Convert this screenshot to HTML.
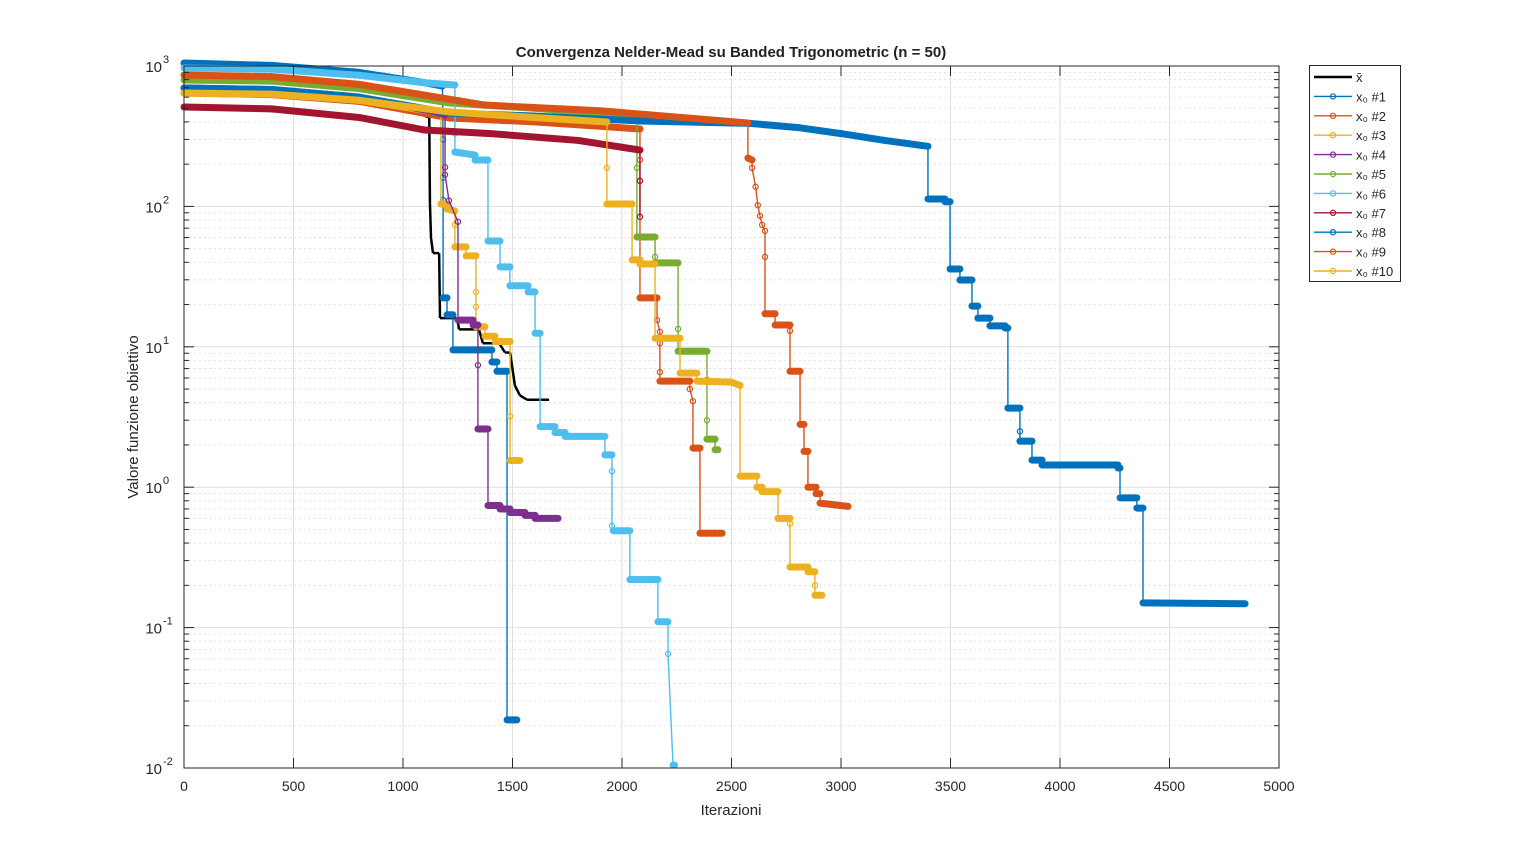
<!DOCTYPE html>
<html><head><meta charset="utf-8"><style>
body{margin:0;background:#fff;}
svg{display:block;font-family:"Liberation Sans",Arial,sans-serif;}
</style></head><body>
<svg id="chart" width="1536" height="864" viewBox="0 0 1536 864" xmlns="http://www.w3.org/2000/svg">
<rect x="0" y="0" width="1536" height="864" fill="#fff"/>
<g id="grid"></g>
<g id="series"></g>
<g id="axes"></g>
<text x="731" y="57" text-anchor="middle" font-size="15" font-weight="bold" fill="#222">Convergenza Nelder-Mead su Banded Trigonometric (n = 50)</text>
<text x="731" y="815" text-anchor="middle" font-size="15" fill="#262626">Iterazioni</text>
<text x="138" y="417" text-anchor="middle" font-size="15" fill="#262626" transform="rotate(-90 138 417)">Valore funzione obiettivo</text>
<g id="legend"></g>
</svg>
<script>
const xTicks=[0,500,1000,1500,2000,2500,3000,3500,4000,4500,5000];
const yDecades=[-2,-1,0,1,2,3];
const seriesNames=["x̄","x₀ #1","x₀ #2","x₀ #3","x₀ #4","x₀ #5","x₀ #6","x₀ #7","x₀ #8","x₀ #9","x₀ #10"];
const seriesColors=["#000000","#0072BD","#D95319","#EDB120","#7E2F8E","#77AC30","#4DBEEE","#A2142F","#0072BD","#D95319","#EDB120"];

const sBar=[[0,640],[500,610],[1000,500],[1120,430],[1123,105],[1128,59.5],[1137,46.5],[1165,46.5],[1169,16],[1247,16],[1256,13.3],[1347,13.3],[1365,10.6],[1439,10.6],[1466,9.1],[1489,9.1],[1511,5.3],[1534,4.5],[1566,4.2],[1667,4.2]];
const s1=[[0,1050],[400,1010],[800,900],[1100,760],[1180,720],[1183,300],[1183,160],[1183,111],[1183,22.3],[1201,22.3],[1201,16.9],[1228,16.9],[1228,9.5],[1406,9.5],[1406,7.8],[1429,7.8],[1429,6.7],[1475,6.7],[1475,0.022],[1520,0.022]];
const s2=[[0,642],[400,625],[800,560],[1215,426],[1600,400],[2082,356],[2082,214],[2082,152],[2082,22.3],[2160,22.3],[2160,15.5],[2173,12.8],[2173,10.6],[2173,6.6],[2173,5.7],[2310,5.7],[2310,5.0],[2324,4.1],[2324,1.9],[2356,1.9],[2356,0.47],[2457,0.47]];
const s3=[[0,642],[400,630],[800,570],[1150,470],[1173,460],[1173,104],[1201,104],[1201,95.8],[1237,92.7],[1237,73.9],[1237,51.5],[1288,51.5],[1288,44.4],[1333,44.4],[1333,24.6],[1333,19.3],[1333,13.9],[1374,13.9],[1374,11.9],[1420,11.9],[1420,10.9],[1489,10.9],[1489,3.2],[1489,1.55],[1534,1.55]];
const s4=[[0,697],[400,680],[800,600],[1150,470],[1192,448],[1192,190],[1192,168],[1210,110],[1251,77.7],[1251,15.5],[1320,15.5],[1320,14.3],[1342,14.3],[1342,7.4],[1342,2.6],[1388,2.6],[1388,0.74],[1443,0.74],[1443,0.7],[1489,0.7],[1489,0.66],[1557,0.66],[1557,0.63],[1603,0.63],[1603,0.6],[1708,0.6]];
const s5=[[0,795],[400,780],[800,690],[1215,545],[1600,500],[2068,433],[2068,188],[2068,60.6],[2151,60.6],[2151,43.7],[2151,39.6],[2256,39.6],[2256,13.4],[2256,9.3],[2388,9.3],[2388,5.8],[2388,3.0],[2388,2.2],[2425,2.2],[2425,1.85],[2438,1.85]];
const s6=[[0,968],[400,950],[800,860],[1100,760],[1237,732],[1237,330],[1237,244],[1329,232],[1329,214],[1388,214],[1388,56.7],[1443,56.7],[1443,37.1],[1488,37.1],[1488,27.2],[1571,27.2],[1571,24.6],[1603,24.6],[1603,12.5],[1626,12.5],[1626,2.7],[1694,2.7],[1694,2.45],[1740,2.45],[1740,2.3],[1922,2.3],[1922,1.7],[1954,1.7],[1954,1.3],[1954,0.53],[1960,0.49],[2036,0.49],[2036,0.22],[2164,0.22],[2164,0.11],[2210,0.11],[2210,0.065],[2233,0.0105],[2240,0.0105]];
const s7=[[0,510],[400,495],[800,430],[1100,350],[1400,330],[1800,295],[2082,252],[2082,152],[2082,84.4]];
const s8=[[0,697],[400,680],[800,600],[1215,462],[1600,440],[2082,406],[2584,390],[2800,365],[3000,330],[3200,295],[3397,268],[3397,113],[3475,113],[3475,108],[3498,108],[3498,35.8],[3543,35.8],[3543,29.9],[3598,29.9],[3598,19.5],[3625,19.5],[3625,16],[3680,16],[3680,14.1],[3749,14.1],[3749,13.6],[3762,13.6],[3762,3.66],[3817,3.66],[3817,2.5],[3817,2.13],[3872,2.13],[3872,1.56],[3918,1.56],[3918,1.44],[4265,1.44],[4265,1.37],[4274,1.37],[4274,0.84],[4351,0.84],[4351,0.71],[4379,0.71],[4379,0.15],[4845,0.148]];
const s9=[[0,863],[400,840],[800,740],[1374,527],[1900,480],[2575,393],[2575,221],[2594,214],[2594,188],[2610,138],[2620,102],[2630,85.8],[2640,73.9],[2653,67],[2653,43.7],[2653,17.2],[2699,17.2],[2699,14.3],[2767,14.3],[2767,13],[2767,6.7],[2813,6.7],[2813,2.8],[2831,2.8],[2831,1.8],[2849,1.8],[2849,1.0],[2886,1.0],[2886,0.9],[2904,0.9],[2904,0.77],[3032,0.73]];
const s10=[[0,642],[400,630],[800,570],[1215,470],[1600,430],[1931,399],[1931,188],[1931,104],[2046,104],[2046,41.6],[2082,41.6],[2082,38.9],[2151,38.9],[2151,11.5],[2265,11.5],[2265,6.5],[2342,6.5],[2342,5.7],[2500,5.6],[2539,5.3],[2539,1.2],[2616,1.2],[2616,1.0],[2639,1.0],[2639,0.93],[2712,0.93],[2712,0.6],[2767,0.6],[2767,0.55],[2767,0.27],[2849,0.27],[2849,0.25],[2881,0.25],[2881,0.2],[2881,0.17],[2913,0.17]];
const allSeries=[sBar,s1,s2,s3,s4,s5,s6,s7,s8,s9,s10];

const X0=184,X1=1279,Y0=66,Y1=768;
const xMax=5000,logMin=-2,logMax=3;
function xs(v){return X0+(v/xMax)*(X1-X0);}
function ys(v){return Y0+(logMax-Math.log10(v))/(logMax-logMin)*(Y1-Y0);}
const NS="http://www.w3.org/2000/svg";
function mk(tag,attrs,parent){const e=document.createElementNS(NS,tag);for(const k in attrs)e.setAttribute(k,attrs[k]);parent.appendChild(e);return e;}

const grid=document.getElementById('grid');
yDecades.forEach(d=>{
  if(d<logMax){for(let m=2;m<=9;m++){const y=ys(m*Math.pow(10,d));
    const l=mk('line',{x1:X0,x2:X1,y1:y,y2:y,stroke:'#dcdcdc','stroke-width':0.8,'stroke-dasharray':'2,3'},grid);
    
    }}
  const y=ys(Math.pow(10,d));
  const l=mk('line',{x1:X0,x2:X1,y1:y,y2:y,stroke:'#dedede','stroke-width':1},grid);
  
  
});
xTicks.forEach(t=>{const x=xs(t);
  const l=mk('line',{x1:x,x2:x,y1:Y0,y2:Y1,stroke:'#dedede','stroke-width':1},grid);
  
  
});

const sg=document.getElementById('series');
allSeries.forEach((pts,si)=>{
  const col=seriesColors[si];
  const g=mk('g',{},sg);
  
  
  const P=pts.map(p=>[xs(p[0]),ys(p[1])]);
  const thickFlags=[];
  for(let i=0;i<P.length-1;i++){
    const dx=P[i+1][0]-P[i][0],dy=Math.abs(P[i+1][1]-P[i][1]);
    const thick=si>0&&dx>1&&dy<dx*0.6;
    thickFlags.push(thick);
    const l=mk('line',{x1:P[i][0],y1:P[i][1],x2:P[i+1][0],y2:P[i+1][1],stroke:col,'stroke-width':si===0?2.5:(thick?7:1.4),'stroke-linecap':thick?'round':'butt'},g);
    
    
  }
  if(si>0){P.forEach((p,i)=>{
    const a=i>0?thickFlags[i-1]:false,b=i<thickFlags.length?thickFlags[i]:false;
    if(a||b)return;
    const c=mk('circle',{cx:p[0],cy:p[1],r:2.6,fill:'none',stroke:col,'stroke-width':1.2},g);
    
    
  });}
});

const ax=document.getElementById('axes');
const box=mk('rect',{x:X0,y:Y0,width:X1-X0,height:Y1-Y0,fill:'none',stroke:'#262626','stroke-width':1},ax);


xTicks.forEach(t=>{const x=xs(t);
  mk('line',{x1:x,x2:x,y1:Y1,y2:Y1-10,stroke:'#262626'},ax);
  mk('line',{x1:x,x2:x,y1:Y0,y2:Y0+10,stroke:'#262626'},ax);
  const tx=mk('text',{x:x,y:791,'text-anchor':'middle','font-size':14,fill:'#262626'},ax);
  tx.textContent=t;
  
  
});
yDecades.forEach(d=>{const y=ys(Math.pow(10,d));
  mk('line',{x1:X0,x2:X0+10,y1:y,y2:y,stroke:'#262626'},ax);
  mk('line',{x1:X1,x2:X1-10,y1:y,y2:y,stroke:'#262626'},ax);
  if(d<logMax){for(let m=2;m<=9;m++){const yy=ys(m*Math.pow(10,d));
    mk('line',{x1:X0,x2:X0+5,y1:yy,y2:yy,stroke:'#262626'},ax);
    mk('line',{x1:X1,x2:X1-5,y1:yy,y2:yy,stroke:'#262626'},ax);}}
  const tx=mk('text',{x:162,y:y+6,'text-anchor':'end','font-size':15,fill:'#262626'},ax);
  tx.textContent='10';
  
  
  const sp=mk('text',{x:163,y:y-3,'font-size':11,fill:'#262626'},ax);
  sp.textContent=String(d);
  
  
});

const lg=document.getElementById('legend');
const lb=mk('rect',{x:1309.5,y:65.5,width:91,height:216,fill:'#fff',stroke:'#262626','stroke-width':1},lg);


seriesNames.forEach((n,i)=>{
  const y=77+i*19.4;
  const g=mk('g',{},lg);
  
  
  mk('line',{x1:1314,x2:1352,y1:y,y2:y,stroke:seriesColors[i],'stroke-width':i===0?2.5:1.4},g);
  if(i>0)mk('circle',{cx:1333,cy:y,r:2.6,fill:'none',stroke:seriesColors[i],'stroke-width':1.2},g);
  const t=mk('text',{x:1356,y:y+5,'font-size':13,fill:'#262626'},g);
  t.textContent=n;
});
</script>
</body></html>
